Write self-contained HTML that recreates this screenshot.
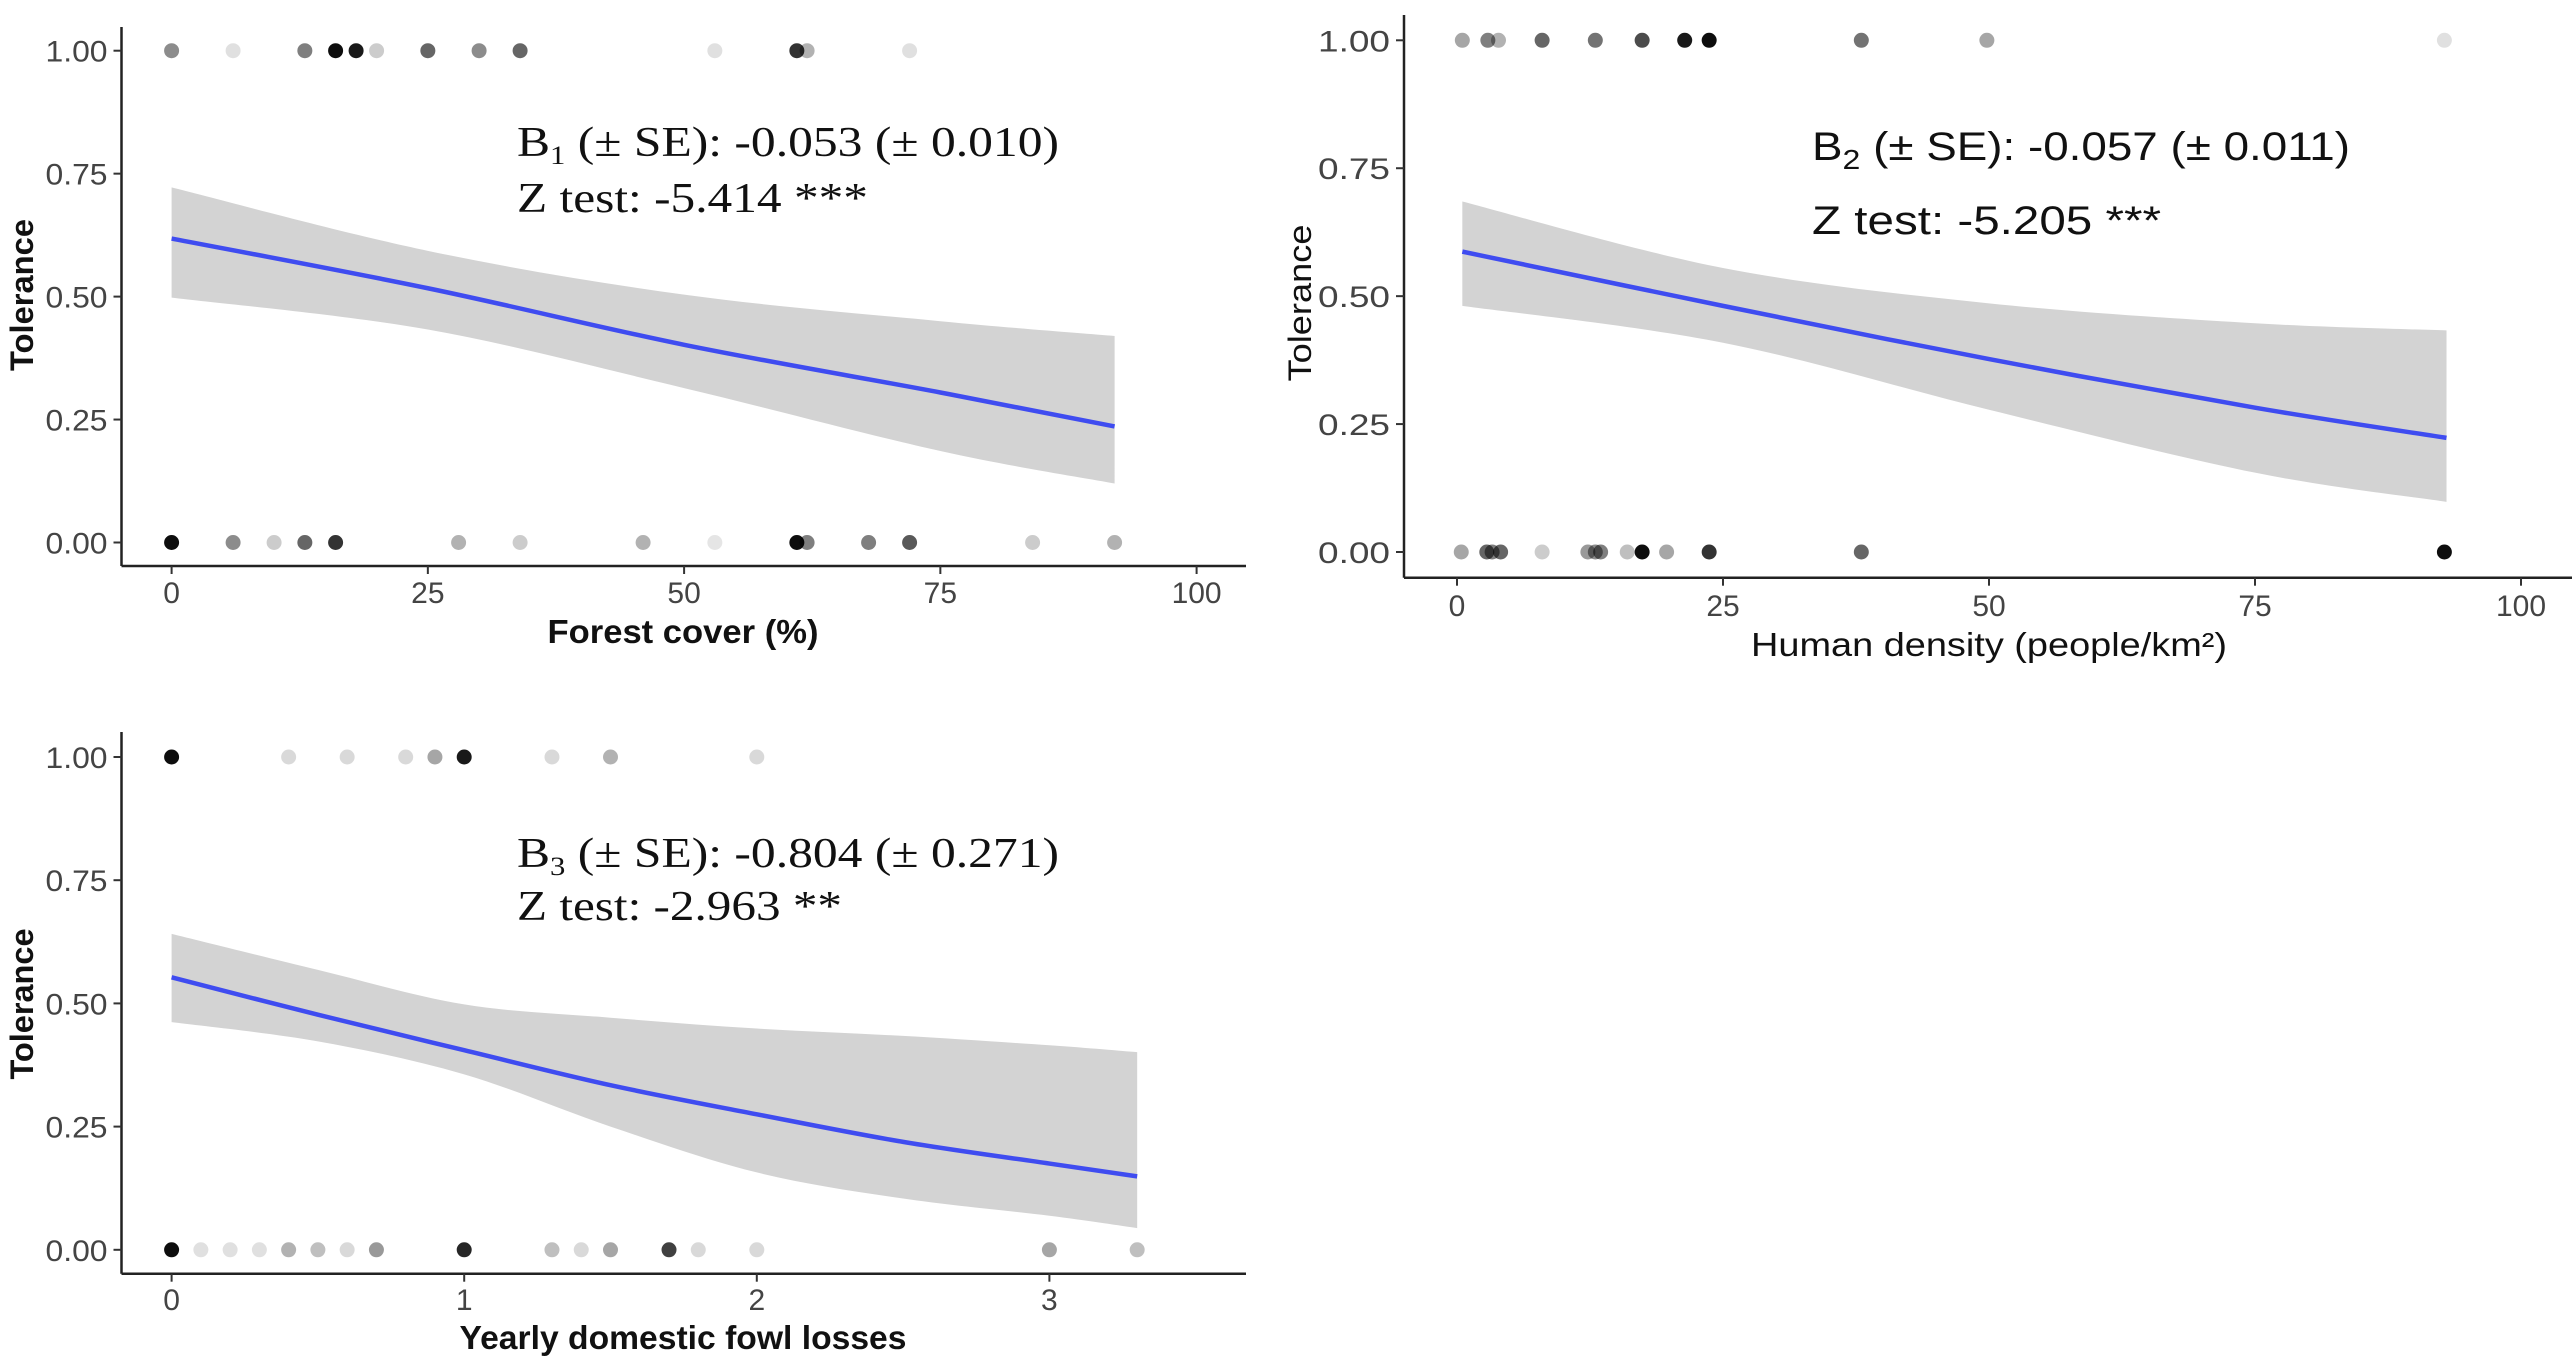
<!DOCTYPE html>
<html><head><meta charset="utf-8"><style>
html,body{margin:0;padding:0;background:#fff;}
svg{display:block;}
</style></head><body>
<svg id="fig" width="2574" height="1363" viewBox="0 0 2574 1363" xmlns="http://www.w3.org/2000/svg"></svg>
<script>
// ---------- Panel 1 data: Forest cover ----------
const p1TopX = [0,6,13,16,18,20,25,30,34,53,61,62,72];
const p1TopA = [0.45,0.12,0.5,0.95,0.9,0.2,0.6,0.45,0.6,0.12,0.8,0.3,0.12];
const p1BotX = [0,6,10,13,16,28,34,46,53,61,62,68,72,84,92];
const p1BotA = [0.95,0.45,0.2,0.6,0.8,0.3,0.2,0.3,0.1,0.95,0.5,0.5,0.65,0.2,0.3];
const p1FitX = [0,25,50,75,92];
const p1FitY = [0.618,0.517,0.402,0.305,0.236];
const p1Up = [0.722,0.593,0.504,0.45,0.42];
const p1Lo = [0.498,0.433,0.314,0.186,0.12];
const p1XTicks = [0,25,50,75,100];
// ---------- Panel 2 data: Human density ----------
const p2TopX = [0.5,2.9,3.9,8,13,17.4,21.4,23.7,38,49.8,92.8];
const p2TopA = [0.35,0.5,0.3,0.6,0.55,0.7,0.9,0.95,0.55,0.35,0.12];
const p2BotX = [0.4,2.8,3.3,4.1,8,12.3,13,13.5,16,17.4,19.7,23.7,38,92.8];
const p2BotA = [0.35,0.6,0.5,0.6,0.2,0.4,0.45,0.5,0.25,0.95,0.35,0.8,0.6,0.95];
const p2FitX = [0.5,25,50,75,93];
const p2FitY = [0.587,0.481,0.377,0.282,0.223];
const p2Up = [0.685,0.555,0.486,0.447,0.433];
const p2Lo = [0.481,0.409,0.278,0.155,0.098];
const p2XTicks = [0,25,50,75,100];
// ---------- Panel 3 data: Fowl losses ----------
const p3TopX = [0,0.4,0.6,0.8,0.9,1.0,1.3,1.5,2.0];
const p3TopA = [0.95,0.15,0.15,0.15,0.35,0.9,0.15,0.3,0.15];
const p3BotX = [0,0.1,0.2,0.3,0.4,0.5,0.6,0.7,1.0,1.3,1.4,1.5,1.7,1.8,2.0,3.0,3.3];
const p3BotA = [0.95,0.12,0.12,0.12,0.3,0.25,0.15,0.4,0.85,0.25,0.15,0.35,0.75,0.15,0.15,0.35,0.25];
const p3FitX = [0,0.5,1,1.5,2,2.5,3,3.3];
const p3FitY = [0.553,0.477,0.405,0.334,0.275,0.219,0.175,0.149];
const p3Up = [0.641,0.568,0.498,0.471,0.449,0.434,0.415,0.401];
const p3Lo = [0.462,0.423,0.356,0.25,0.157,0.104,0.069,0.044];
const p3XTicks = [0,1,2,3];
const yTicks = [0,0.25,0.5,0.75,1];
const yTickLabels = ["0.00","0.25","0.50","0.75","1.00"];

const NS = "http://www.w3.org/2000/svg";
const svg = document.getElementById('fig');
function mk(tag, attrs, parent){
  const e = document.createElementNS(NS, tag);
  for (const k in attrs) e.setAttribute(k, attrs[k]);
  (parent||svg).appendChild(e);
  return e;
}
function smooth(pts){
  let d = "M"+pts[0][0]+","+pts[0][1];
  for (let i=0;i<pts.length-1;i++){
    const p0=pts[Math.max(0,i-1)], p1=pts[i], p2=pts[i+1], p3=pts[Math.min(pts.length-1,i+2)];
    const c1x=p1[0]+(p2[0]-p0[0])/6, c1y=p1[1]+(p2[1]-p0[1])/6;
    const c2x=p2[0]-(p3[0]-p1[0])/6, c2y=p2[1]-(p3[1]-p1[1])/6;
    d += " C"+c1x+","+c1y+" "+c2x+","+c2y+" "+p2[0]+","+p2[1];
  }
  return d;
}
function panel(cfg){
  const g = mk('g', {});
  
  
  const sx = v => cfg.x0 + v*cfg.kx;
  const sy = v => cfg.y0 + (cfg.y1-cfg.y0)*v;
  const up = cfg.fitX.map((x,i)=>[sx(x), sy(cfg.up[i])]);
  const lo = cfg.fitX.map((x,i)=>[sx(x), sy(cfg.lo[i])]).reverse();
  let d = smooth(up) + " L" + lo[0][0]+","+lo[0][1] + smooth(lo).replace(/^M[^ C]+/, "") + " Z";
  const band = mk('path', {d:d, fill:'#d3d3d3', stroke:'none'}, g);
  
  
  const line = mk('path', {d:smooth(cfg.fitX.map((x,i)=>[sx(x), sy(cfg.fitY[i])])), fill:'none', stroke:'#3f4cf0', 'stroke-width':4.5}, g);
  
  
  const addPts = (xs, as, yv) => xs.forEach((x,i)=>{
    const c = mk('circle', {cx:sx(x), cy:sy(yv), r:7.5, fill:'#000', 'fill-opacity':as[i]}, g);
    
    
  });
  addPts(cfg.topX, cfg.topA, 1);
  addPts(cfg.botX, cfg.botA, 0);
  const ya = mk('line', {x1:cfg.ax, y1:cfg.axTop, x2:cfg.ax, y2:cfg.ay, stroke:'#222', 'stroke-width':2.5}, g);
  
  
  const xa = mk('line', {x1:cfg.ax, y1:cfg.ay, x2:cfg.axRight, y2:cfg.ay, stroke:'#222', 'stroke-width':2.5}, g);
  
  
  yTicks.forEach((v,i)=>{
    mk('line', {x1:cfg.ax-8, y1:sy(v), x2:cfg.ax, y2:sy(v), stroke:'#333', 'stroke-width':2}, g);
    const t = mk('text', {x:cfg.ax-14, y:sy(v)+11, 'text-anchor':'end', 'font-family':'Liberation Sans, sans-serif', 'font-size':30, fill:'#444', textLength:cfg.ytw, lengthAdjust:'spacingAndGlyphs'}, g);
    t.textContent = yTickLabels[i];
    
    
  });
  cfg.xTicks.forEach(v=>{
    mk('line', {x1:sx(v), y1:cfg.ay, x2:sx(v), y2:cfg.ay+8, stroke:'#333', 'stroke-width':2}, g);
    const t = mk('text', {x:sx(v), y:cfg.xtb, 'text-anchor':'middle', 'font-family':'Liberation Sans, sans-serif', 'font-size':30, fill:'#444'}, g);
    t.textContent = String(v);
    
    
  });
  const xt = mk('text', {x:cfg.xtx, y:cfg.xty, 'text-anchor':'middle', 'font-family':'Liberation Sans, sans-serif', 'font-size':33, 'font-weight':cfg.xbold?'bold':'normal', fill:'#111', textLength:cfg.xtl, lengthAdjust:'spacingAndGlyphs'}, g);
  xt.textContent = cfg.xtitle;
  
  
  const yt = mk('text', {x:0, y:0, transform:'translate('+cfg.ytx+','+cfg.yty+') rotate(-90)', 'text-anchor':'middle', 'font-family':'Liberation Sans, sans-serif', 'font-size':32, 'font-weight':cfg.ybold?'bold':'normal', fill:'#111', textLength:cfg.ytl, lengthAdjust:'spacingAndGlyphs'}, g);
  yt.textContent = 'Tolerance';
  
  
  return g;
}
const g1 = panel({name:'forest-cover-panel', x0:171.6, kx:10.25, y0:542.5, y1:50.7, ax:121.5, axTop:27, ay:566, axRight:1246, ytw:62, xTicks:p1XTicks, xtb:603,
  topX:p1TopX, topA:p1TopA, botX:p1BotX, botA:p1BotA, fitX:p1FitX, fitY:p1FitY, up:p1Up, lo:p1Lo,
  xtitle:'Forest cover (%)', xtx:683, xty:643, xtl:271, xbold:true, ytx:33, yty:295, ytl:152, ybold:true});
const g2 = panel({name:'human-density-panel', x0:1457, kx:10.64, y0:552, y1:40.3, ax:1404, axTop:15, ay:577.7, axRight:2572, ytw:72, xTicks:p2XTicks, xtb:616,
  topX:p2TopX, topA:p2TopA, botX:p2BotX, botA:p2BotA, fitX:p2FitX, fitY:p2FitY, up:p2Up, lo:p2Lo,
  xtitle:'Human density (people/km²)', xtx:1989, xty:656, xtl:476, xbold:false, ytx:1311, yty:303, ytl:157, ybold:false});
const g3 = panel({name:'fowl-losses-panel', x0:171.6, kx:292.6, y0:1249.8, y1:757, ax:121.5, axTop:732, ay:1273.7, axRight:1246, ytw:62, xTicks:p3XTicks, xtb:1310,
  topX:p3TopX, topA:p3TopA, botX:p3BotX, botA:p3BotA, fitX:p3FitX, fitY:p3FitY, up:p3Up, lo:p3Lo,
  xtitle:'Yearly domestic fowl losses', xtx:683, xty:1349, xtl:447, xbold:true, ytx:33, yty:1004, ytl:151, ybold:true});

function ann(parent, x, y, html, len, fam, size, name){
  const t = mk('text', {x:x, y:y, 'font-family':fam, 'font-size':size, fill:'#111', textLength:len, lengthAdjust:'spacingAndGlyphs'}, parent);
  t.innerHTML = html;
  
  
}
const serif = 'Liberation Serif, serif', sans = 'Liberation Sans, sans-serif';
ann(g1, 517, 156, 'B<tspan font-size="26" dy="8">1</tspan><tspan dy="-8"> (± SE): -0.053 (± 0.010)</tspan>', 542, serif, 42, 'coefficient-annotation');
ann(g1, 517, 212, 'Z test: -5.414 ***', 351, serif, 42, 'z-test-annotation');
ann(g2, 1812, 160, 'B<tspan font-size="28" dy="9">2</tspan><tspan dy="-9"> (± SE): -0.057 (± 0.011)</tspan>', 538, sans, 40, 'coefficient-annotation');
ann(g2, 1812, 234, 'Z test: -5.205 ***', 349, sans, 40, 'z-test-annotation');
ann(g3, 517, 867, 'B<tspan font-size="26" dy="8">3</tspan><tspan dy="-8"> (± SE): -0.804 (± 0.271)</tspan>', 542, serif, 42, 'coefficient-annotation');
ann(g3, 517, 920, 'Z test: -2.963 **', 325, serif, 42, 'z-test-annotation');
</script>
</body></html>
